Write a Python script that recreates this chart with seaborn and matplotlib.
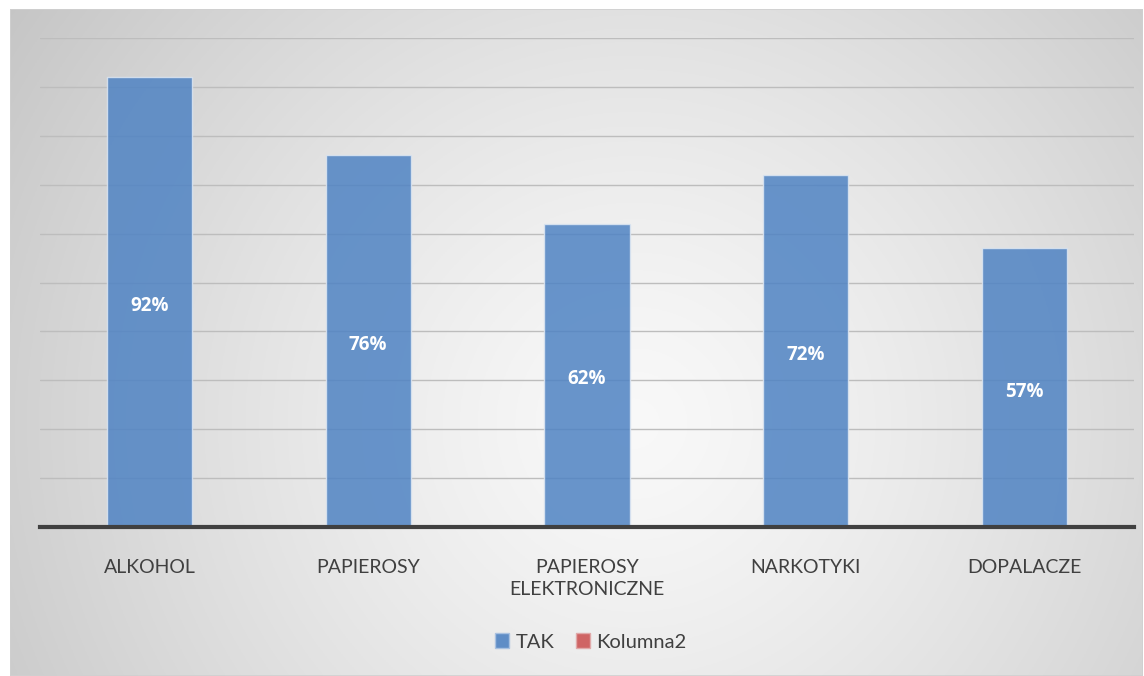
import numpy as np
import matplotlib
matplotlib.use("Agg")
import matplotlib.pyplot as plt
import seaborn as sns
import pandas as pd
from matplotlib.patches import Patch, Rectangle

categories = ["ALKOHOL", "PAPIEROSY", "PAPIEROSY\nELEKTRONICZNE", "NARKOTYKI", "DOPALACZE"]
tak_values = [92, 76, 62, 72, 57]
series_names = ["TAK", "Kolumna2"]

sns.set_theme(style="white")
plt.rcParams['font.family'] = ['Lato', 'DejaVu Sans']

W, H = 1144, 676
fig = plt.figure(figsize=(W / 100, H / 100), dpi=100)
fig.patch.set_facecolor("white")

# background with radial gradient
bg = fig.add_axes([10 / W, 0, (1143 - 10) / W, (676 - 9) / H])
bg.set_axis_off()
yy, xx = np.mgrid[0:300, 0:500]
cx, cy = 0.55 * 500, 0.62 * 300
d = np.sqrt(((xx - cx) / 500) ** 2 + ((yy - cy) / 300 * 0.6) ** 2)
d = d / d.max()
val = 0.975 - 0.2 * d ** 1.3
img = np.dstack([val, val, val])
bg.imshow(img, aspect="auto", extent=[0, 1, 0, 1], origin="upper")
bg.add_patch(Rectangle((0, 0), 1, 1, transform=bg.transAxes, fill=False,
                       edgecolor="#d0d0d0", lw=1.2))
bg.set_xlim(0, 1)
bg.set_ylim(0, 1)

ax = fig.add_axes([40 / W, 1 - 527 / H, (1134 - 40) / W, (527 - 38) / H])
ax.patch.set_alpha(0)
df = pd.DataFrame({"cat": categories, "val": tak_values})
sns.barplot(data=df, x="cat", y="val", ax=ax, color="#4f83c3", width=0.39,
            saturation=1, alpha=0.85, edgecolor="#dce6f2", linewidth=1.0, zorder=3)
ax.set_ylim(0, 100)
ax.set_yticks(np.arange(0, 101, 10))
ax.yaxis.grid(True, color="#bdbdbd", lw=1.0, zorder=0)
ax.set_axisbelow(True)
ax.tick_params(axis="y", left=False, labelleft=False)
ax.tick_params(axis="x", bottom=False, labelsize=14, colors="#404040", pad=17)
for lbl in ax.get_xticklabels():
    lbl.set_linespacing(1.35)
ax.set_xlabel("")
ax.set_ylabel("")
for s in ["top", "right", "left"]:
    ax.spines[s].set_visible(False)
ax.spines["bottom"].set_color("#404040")
ax.spines["bottom"].set_linewidth(3)
ax.spines["bottom"].set_zorder(5)

for i, v in enumerate(tak_values):
    ax.text(i, v / 2 - 0.8, f"{v}%", ha="center", va="center", color="white",
            fontsize=13.5, fontweight="bold", family=["Open Sans", "DejaVu Sans"], zorder=6)

handles = [Patch(facecolor="#5f8dc6", edgecolor="#a9c1e0"),
           Patch(facecolor="#cf6464", edgecolor="#e0a9a9")]
leg = fig.legend(handles, series_names, loc="center", bbox_to_anchor=(591 / W, 1 - 642 / H),
                 ncol=2, frameon=False, fontsize=14.5, handlelength=0.7, handleheight=0.7,
                 handletextpad=0.3, columnspacing=1.1)
for t in leg.get_texts():
    t.set_color("#404040")

fig.savefig("out.png", dpi=100)
